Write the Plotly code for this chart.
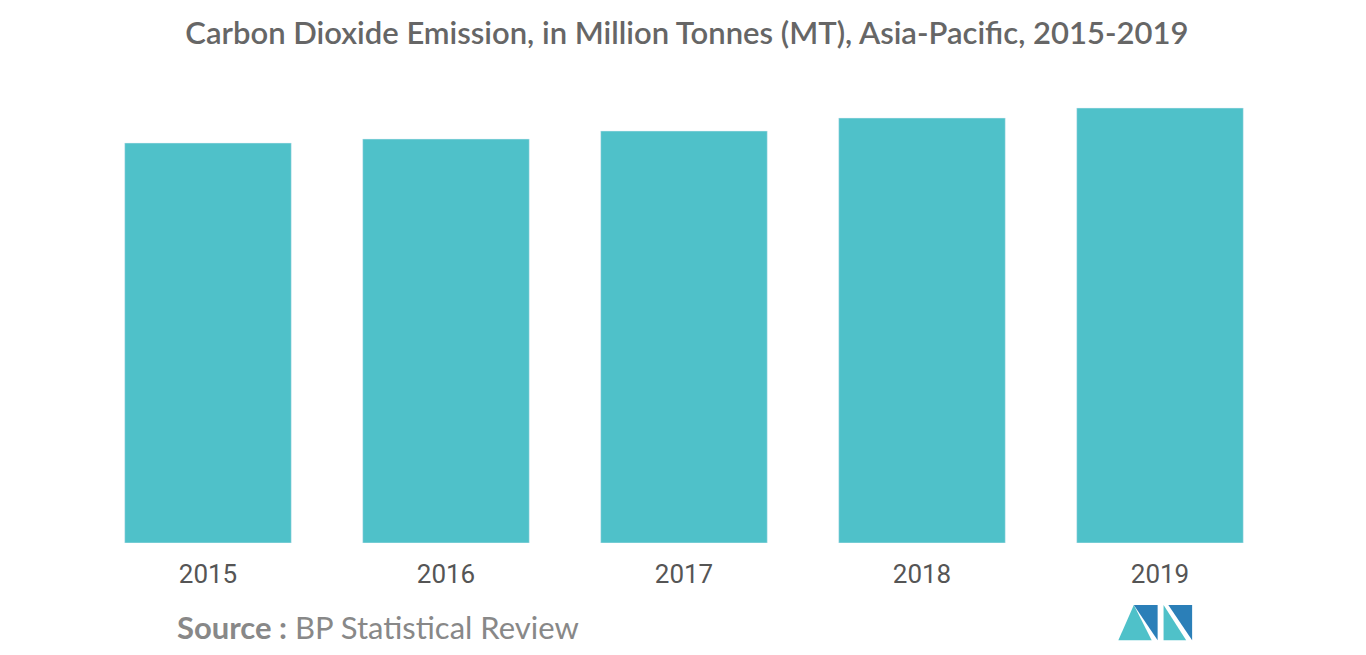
import plotly.graph_objects as go

years = ["2015", "2016", "2017", "2018", "2019"]
emissions = [16000, 16160, 16480, 17000, 17400]

fig = go.Figure()
fig.add_trace(go.Bar(x=years, y=emissions, marker_color="#4fc1c9", width=0.7))

fig.update_layout(
    width=1366, height=655,
    plot_bgcolor="white", paper_bgcolor="white",
    margin=dict(l=81, r=95, t=85, b=120),
    showlegend=False,
    title=dict(text="Carbon Dioxide Emission, in Million Tonnes (MT), Asia-Pacific, 2015-2019",
               x=0.497, y=0.962, xanchor="center", yanchor="middle",
               font=dict(family="Lato", size=31, color="#666666", weight=600)),
    font=dict(family="Roboto"),
)
fig.update_xaxes(showline=False, ticks="outside", ticklen=8, tickcolor="rgba(0,0,0,0)",
                 tickfont=dict(size=26, color="#555555"))
fig.update_yaxes(range=[0, 18000], visible=False, showgrid=False)

fig.add_annotation(text="<b>Source :</b> BP Statistical Review", xref="paper", yref="paper",
                   x=0.072, y=-0.187, xanchor="left", yanchor="middle", showarrow=False,
                   font=dict(family="Lato", size=31, color="#888888"))

# logo
fig.add_shape(type="path", xref="paper", yref="paper",
              path="M 0.865 -0.216 L 0.878 -0.138 L 0.893 -0.216 Z", fillcolor="#4fc1c9", line_width=0)
fig.add_shape(type="path", xref="paper", yref="paper",
              path="M 0.878 -0.138 L 0.898 -0.138 L 0.898 -0.216 Z", fillcolor="#2b7fb8", line_width=0)
fig.add_shape(type="path", xref="paper", yref="paper",
              path="M 0.903 -0.138 L 0.903 -0.216 L 0.922 -0.216 Z", fillcolor="#4fc1c9", line_width=0)
fig.add_shape(type="path", xref="paper", yref="paper",
              path="M 0.907 -0.138 L 0.927 -0.138 L 0.927 -0.216 Z", fillcolor="#2b7fb8", line_width=0)

fig.write_html("out.html")
